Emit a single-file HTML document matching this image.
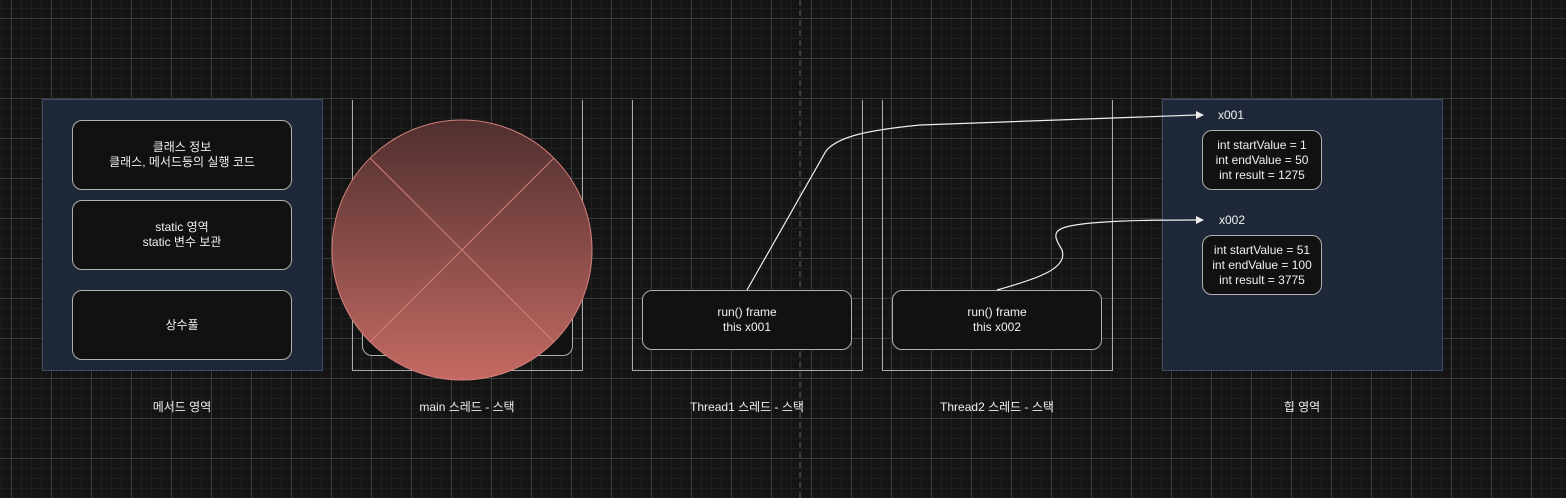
<!DOCTYPE html>
<html><head><meta charset="utf-8"><style>
html,body{margin:0;padding:0}
body{width:1566px;height:498px;overflow:hidden;position:relative;font-family:"Liberation Sans","Noto Sans CJK KR",sans-serif;color:#f0f0f0;font-size:12px;
background-color:#141414;
background-image:
linear-gradient(to right,#3c3c3c 1px,transparent 1px),
linear-gradient(to bottom,#3c3c3c 1px,transparent 1px),
linear-gradient(to right,#1f1f1f 1px,transparent 1px),
linear-gradient(to bottom,#1f1f1f 1px,transparent 1px);
background-size:40px 40px,40px 40px,10px 10px,10px 10px;
background-position:11px 18px,11px 18px,1px 8px,1px 8px;}
.a{position:absolute;box-sizing:border-box}
.area{background:#1f2839;border:1.5px solid #3d4d66}
.box{background:#111;border:1.5px solid #b0b0b0;border-radius:10px;display:flex;align-items:center;justify-content:center;text-align:center;line-height:15px}
.stack{border:1.5px solid #aaa;border-top:none}
.lbl{text-align:center;width:240px}
</style></head><body>
<div class="a" style="left:799px;top:0;height:498px;border-left:2px dashed #3a3a3a"></div>

<div class="a area" style="left:42px;top:99px;width:281px;height:272px"></div>
<div class="a box" style="left:72px;top:120px;width:220px;height:70px">클래스 정보<br>클래스, 메서드등의 실행 코드</div>
<div class="a box" style="left:72px;top:200px;width:220px;height:70px">static 영역<br>static 변수 보관</div>
<div class="a box" style="left:72px;top:290px;width:220px;height:70px">상수풀</div>

<div class="a stack" style="left:352px;top:100px;width:231px;height:271px"></div>
<div class="a box" style="left:362px;top:290px;width:211px;height:66px"></div>

<div class="a stack" style="left:632px;top:100px;width:231px;height:271px"></div>
<div class="a box" style="left:642px;top:290px;width:210px;height:60px">run() frame<br>this x001</div>
<div class="a stack" style="left:882px;top:100px;width:231px;height:271px"></div>
<div class="a box" style="left:892px;top:290px;width:210px;height:60px">run() frame<br>this x002</div>

<div class="a area" style="left:1162px;top:99px;width:281px;height:272px"></div>
<div class="a" style="left:1218px;top:108px">x001</div>
<div class="a box" style="left:1202px;top:130px;width:120px;height:60px">int startValue = 1<br>int endValue = 50<br>int result = 1275</div>
<div class="a" style="left:1219px;top:213px">x002</div>
<div class="a box" style="left:1202px;top:235px;width:120px;height:60px">int startValue = 51<br>int endValue = 100<br>int result = 3775</div>

<svg class="a" style="left:0;top:0" width="1566" height="498">
<defs><linearGradient id="g" x1="0" y1="0" x2="0" y2="1"><stop offset="0" stop-color="#4f2f2e"/><stop offset="1" stop-color="#c56a63"/></linearGradient></defs>
<circle cx="462" cy="250" r="130" fill="url(#g)" stroke="#d08079" stroke-width="1"/>
<line x1="370" y1="158" x2="554" y2="342" stroke="#d08079"/>
<line x1="554" y1="158" x2="370" y2="342" stroke="#d08079"/>
<path d="M747,290 L826,151 C838,136 870,130 920,125 L1196,115" fill="none" stroke="#eee" stroke-width="1.2"/>
<path d="M1196,111 L1204,115 L1196,119 Z" fill="#eee"/>
<path d="M997,290 C1040,278 1068,268 1062,250 C1055,238 1050,230 1070,226 C1095,221 1140,220 1196,220" fill="none" stroke="#eee" stroke-width="1.2"/>
<path d="M1196,216 L1204,220 L1196,224 Z" fill="#eee"/>
</svg>

<div class="a lbl" style="left:62px;top:398px">메서드 영역</div>
<div class="a lbl" style="left:347px;top:398px">main 스레드 - 스택</div>
<div class="a lbl" style="left:627px;top:398px">Thread1 스레드 - 스택</div>
<div class="a lbl" style="left:877px;top:398px">Thread2 스레드 - 스택</div>
<div class="a lbl" style="left:1182px;top:398px">힙 영역</div>
</body></html>
